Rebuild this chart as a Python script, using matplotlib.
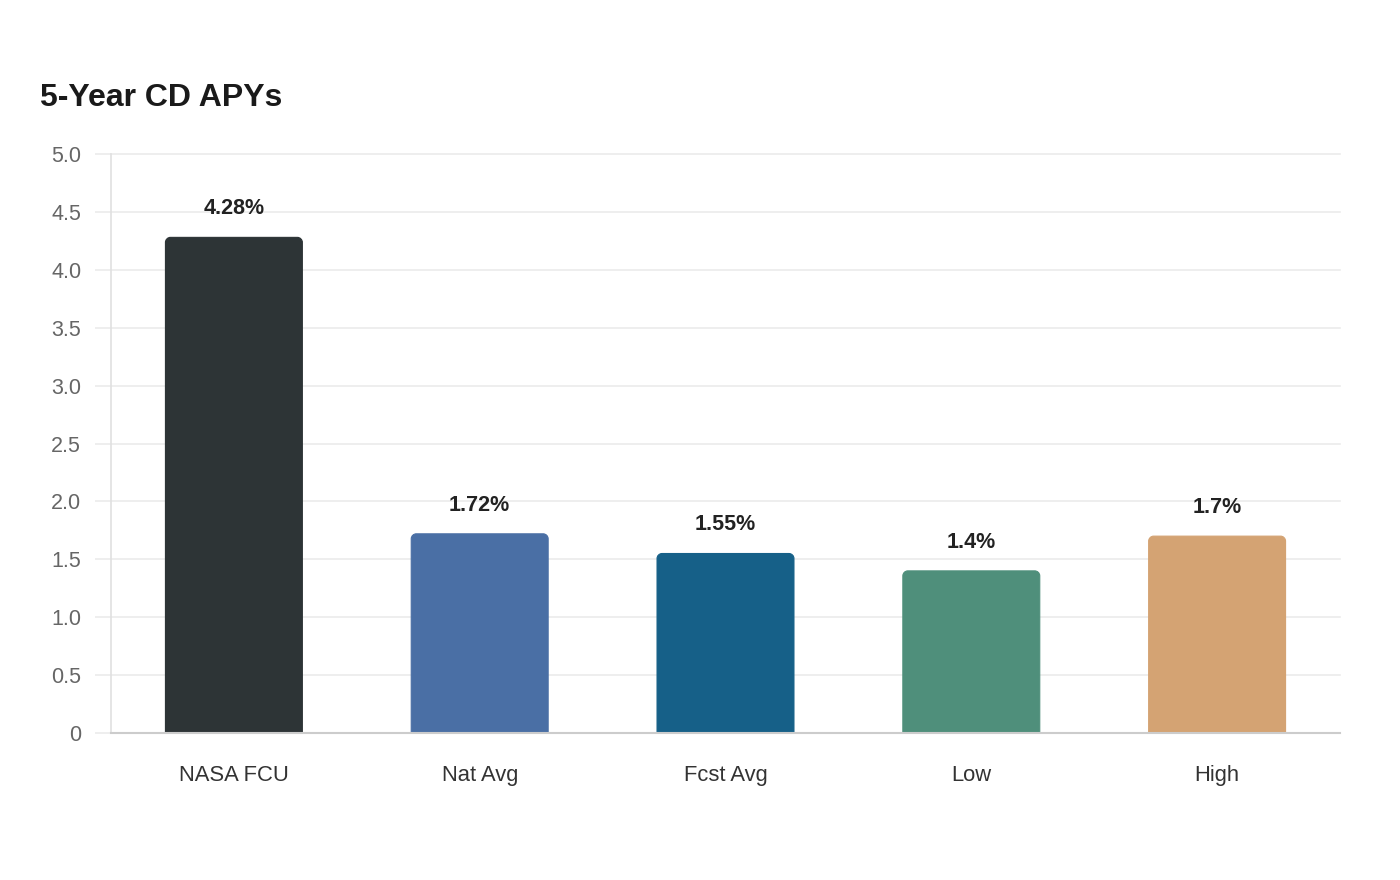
import matplotlib
matplotlib.use("Agg")
import matplotlib.pyplot as plt
from matplotlib.path import Path
from matplotlib.patches import PathPatch

categories = ["NASA FCU", "Nat Avg", "Fcst Avg", "Low", "High"]
values = [4.28, 1.72, 1.55, 1.4, 1.7]
value_labels = ["4.28%", "1.72%", "1.55%", "1.4%", "1.7%"]
colors = ["#2d3436", "#4a6fa5", "#166088", "#4f8f7b", "#d4a373"]
yticks = [0, 0.5, 1.0, 1.5, 2.0, 2.5, 3.0, 3.5, 4.0, 4.5, 5.0]
ytick_labels = ["0", "0.5", "1.0", "1.5", "2.0", "2.5", "3.0", "3.5", "4.0", "4.5", "5.0"]
title = "5-Year CD APYs"

plt.rcParams['font.family'] = ['Liberation Sans', 'DejaVu Sans']

fig = plt.figure(figsize=(14, 8.8), dpi=100)
ax = fig.add_axes([111/1400, 1-733/880, (1340-111)/1400, (733-154)/880])

x = list(range(len(categories)))
bars = ax.bar(x, values, width=0.557, color=colors, zorder=3)
ax.set_xlim(-0.5, len(categories) - 0.5)
ax.set_ylim(0, 5.0)
fig.canvas.draw()

# rounded top corners (radius in pixels)
r_px = 5
inv = ax.transData.inverted()
def px_to_data(dx, dy):
    x0, y0 = inv.transform((0, 0))
    x1, y1 = inv.transform((dx, dy))
    return x1 - x0, y1 - y0
rx, ry = px_to_data(r_px, r_px)
for b, c in zip(bars, colors):
    x0, y0, w, h = b.get_x(), b.get_y(), b.get_width(), b.get_height()
    x1, y1 = x0 + w, y0 + h
    k = 0.5523
    verts = [
        (x0, y0), (x0, y1 - ry),
        (x0, y1 - ry + k * ry), (x0 + rx - k * rx, y1), (x0 + rx, y1),
        (x1 - rx, y1),
        (x1 - rx + k * rx, y1), (x1, y1 - ry + k * ry), (x1, y1 - ry),
        (x1, y0), (x0, y0),
    ]
    codes = [Path.MOVETO, Path.LINETO,
             Path.CURVE4, Path.CURVE4, Path.CURVE4,
             Path.LINETO,
             Path.CURVE4, Path.CURVE4, Path.CURVE4,
             Path.LINETO, Path.CLOSEPOLY]
    patch = PathPatch(Path(verts, codes), facecolor=c, edgecolor=c,
                      linewidth=0.8, zorder=3)
    b.set_visible(False)
    ax.add_patch(patch)

for xi, v, lab in zip(x, values, value_labels):
    ax.annotate(lab, (xi, v), xytext=(0, 13), textcoords="offset points",
                ha="center", va="bottom", fontsize=15.5, fontweight="bold",
                color="#222222", zorder=4)

ax.set_yticks(yticks)
ax.set_yticklabels(ytick_labels)
ax.set_xticks(x)
ax.set_xticklabels(categories)
ax.yaxis.grid(True, color="#ebebeb", linewidth=1.2, zorder=0)
for gl in ax.get_ygridlines():
    gl.set_clip_on(False)
ax.set_axisbelow(True)
ax.tick_params(axis="y", length=11.5, width=1.2, color="#ebebeb", pad=10,
               labelsize=15.5, labelcolor="#666666")
ax.tick_params(axis="x", length=0, pad=23, labelsize=15.8, labelcolor="#333333")
for s in ["top", "right"]:
    ax.spines[s].set_visible(False)
ax.spines["left"].set_color("#e0e0e0")
ax.spines["left"].set_linewidth(1.2)
ax.spines["bottom"].set_color("#cccccc")
ax.spines["bottom"].set_linewidth(1.5)
ax.spines["bottom"].set_zorder(5)

fig.text(40/1400, 1-98/880, title, fontsize=23, fontweight="bold",
         color="#1a1a1a", ha="left", va="center")

fig.savefig("out.png", dpi=100, facecolor="white")
